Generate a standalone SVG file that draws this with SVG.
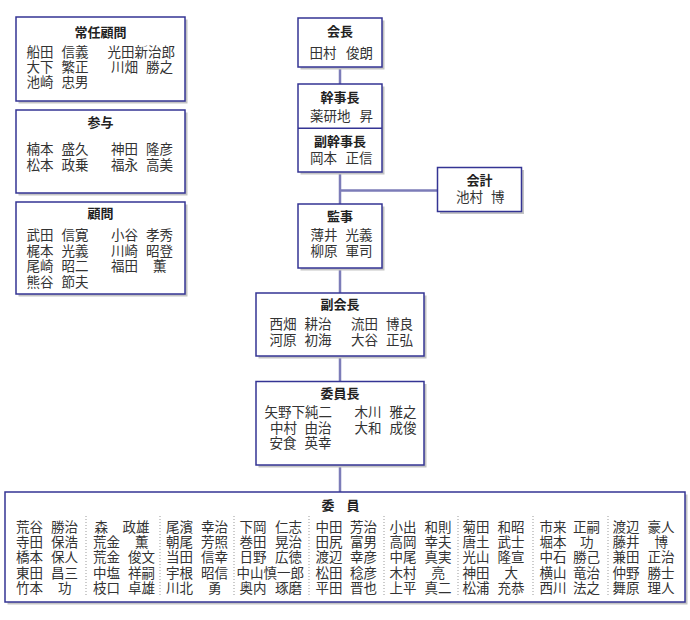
<svg xmlns="http://www.w3.org/2000/svg" width="690" height="620" viewBox="0 0 690 620">
<style>
.box{fill:#fff;stroke:#343494;stroke-width:1.5}
.sh{fill:#c4c4c4}
.t{font-family:"Liberation Sans","Noto Sans CJK JP",sans-serif;font-size:13px;font-weight:bold;fill:#222;text-anchor:middle}
.n{font-family:"Liberation Sans","Noto Sans CJK JP",sans-serif;font-size:13.5px;fill:#333}
.conn{stroke:#7c7cb8;stroke-width:2.5;fill:none}
.dv{stroke:#999;stroke-width:1;stroke-dasharray:1 2}
</style>
<rect width="690" height="620" fill="#fff"/>

<g id="connectors">
<path class="conn" d="M340,67 V85 M340,172 V205 M340,190.5 H438 M340,268 V293 M340,356 V382 M340,465 V492"/>
</g>

<g id="jonin-komon">
<rect class="sh" x="18.5" y="19.5" width="169" height="84"/>
<rect class="box" x="16" y="17" width="169" height="84"/>
<text class="t" x="100.5" y="36.5">常任顧問</text>
<text class="n" y="57"><tspan x="26.5">船田</tspan><tspan x="61.5">信義</tspan><tspan x="107.5">光田新治郎</tspan></text>
<text class="n" y="72"><tspan x="26.5">大下</tspan><tspan x="61.5">繁正</tspan><tspan x="111">川畑</tspan><tspan x="146">勝之</tspan></text>
<text class="n" y="87"><tspan x="26.5">池崎</tspan><tspan x="61.5">忠男</tspan></text>
</g>

<g id="sanyo">
<rect class="sh" x="18.5" y="112.5" width="169" height="83"/>
<rect class="box" x="16" y="110" width="169" height="83"/>
<text class="t" x="100.5" y="126.5">参与</text>
<text class="n" y="153.5"><tspan x="26.5">楠本</tspan><tspan x="61.5">盛久</tspan><tspan x="111">神田</tspan><tspan x="146">隆彦</tspan></text>
<text class="n" y="169.5"><tspan x="26.5">松本</tspan><tspan x="61.5">政乗</tspan><tspan x="111">福永</tspan><tspan x="146">高美</tspan></text>
</g>

<g id="komon">
<rect class="sh" x="18.5" y="204.5" width="169" height="92"/>
<rect class="box" x="16" y="202" width="169" height="92"/>
<text class="t" x="100.5" y="218">顧問</text>
<text class="n" y="240"><tspan x="26.5">武田</tspan><tspan x="61.5">信寛</tspan><tspan x="111">小谷</tspan><tspan x="146">孝秀</tspan></text>
<text class="n" y="255.5"><tspan x="26.5">梶本</tspan><tspan x="61.5">光義</tspan><tspan x="111">川崎</tspan><tspan x="146">昭登</tspan></text>
<text class="n" y="271"><tspan x="26.5">尾崎</tspan><tspan x="61.5">昭二</tspan><tspan x="111">福田</tspan><tspan x="153">薫</tspan></text>
<text class="n" y="286.5"><tspan x="26.5">熊谷</tspan><tspan x="61.5">節夫</tspan></text>
</g>

<g id="kaicho">
<rect class="sh" x="300.5" y="20.5" width="84" height="49"/>
<rect class="box" x="298" y="18" width="84" height="49"/>
<text class="t" x="340" y="35.5">会長</text>
<text class="n" y="58"><tspan x="309.5">田村</tspan><tspan x="346">俊朗</tspan></text>
</g>

<g id="kanjicho">
<rect class="sh" x="300.5" y="86.5" width="84" height="88"/>
<rect class="box" x="298" y="84" width="84" height="88"/>
<line x1="298" y1="128.3" x2="382" y2="128.3" stroke="#343494" stroke-width="1.5"/>
<text class="t" x="340" y="102">幹事長</text>
<text class="n" y="121"><tspan x="310">薬研地</tspan><tspan x="359.5">昇</tspan></text>
<text class="t" x="340" y="145.5">副幹事長</text>
<text class="n" y="162.5"><tspan x="310">岡本</tspan><tspan x="345.5">正信</tspan></text>
</g>

<g id="kaikei">
<rect class="sh" x="440" y="170" width="84" height="44"/>
<rect class="box" x="437.5" y="167.5" width="84" height="44"/>
<text class="t" x="479.5" y="185">会計</text>
<text class="n" y="201.5"><tspan x="456">池村</tspan><tspan x="491">博</tspan></text>
</g>

<g id="kanji">
<rect class="sh" x="300.5" y="206.5" width="84" height="64"/>
<rect class="box" x="298" y="204" width="84" height="64"/>
<text class="t" x="340" y="220.5">監事</text>
<text class="n" y="239.5"><tspan x="310.5">薄井</tspan><tspan x="345.5">光義</tspan></text>
<text class="n" y="256"><tspan x="310.5">柳原</tspan><tspan x="345.5">軍司</tspan></text>
</g>

<g id="fukukaicho">
<rect class="sh" x="258.5" y="295.5" width="168" height="63"/>
<rect class="box" x="256" y="293" width="168" height="63"/>
<text class="t" x="340" y="309">副会長</text>
<text class="n" y="328.5"><tspan x="269.5">西畑</tspan><tspan x="304.5">耕治</tspan><tspan x="351">流田</tspan><tspan x="386">博良</tspan></text>
<text class="n" y="344.5"><tspan x="269.5">河原</tspan><tspan x="304.5">初海</tspan><tspan x="351">大谷</tspan><tspan x="386">正弘</tspan></text>
</g>

<g id="iincho">
<rect class="sh" x="258.5" y="384" width="168" height="83.5"/>
<rect class="box" x="256" y="381.5" width="168" height="83.5"/>
<text class="t" x="340" y="398">委員長</text>
<text class="n" y="416.5"><tspan x="264.5">矢野下純二</tspan><tspan x="354.5">木川</tspan><tspan x="389.5">雅之</tspan></text>
<text class="n" y="432.5"><tspan x="270">中村</tspan><tspan x="304.5">由治</tspan><tspan x="354.5">大和</tspan><tspan x="389.5">成俊</tspan></text>
<text class="n" y="448"><tspan x="269.5">安食</tspan><tspan x="304.5">英幸</tspan></text>
</g>

<g id="iin">
<rect class="sh" x="7.5" y="494.5" width="680" height="110"/>
<rect class="box" x="5" y="492" width="680" height="110"/>
<text class="t" y="509.5"><tspan x="328">委</tspan><tspan x="353">員</tspan></text>
<g id="iin-dividers">
<path class="dv" d="M86,516 V597 M160,516 V597 M234,516 V597 M309,516 V597 M384,516 V597 M458,516 V597 M533,516 V597 M608,516 V597"/>
</g>
<text class="n" y="532"><tspan x="16">荒谷</tspan><tspan x="51">勝治</tspan><tspan x="94.5">森</tspan><tspan x="122.5">政雄</tspan><tspan x="166">尾濱</tspan><tspan x="201">幸治</tspan><tspan x="239.5">下岡</tspan><tspan x="275">仁志</tspan><tspan x="315.5">中田</tspan><tspan x="350">芳治</tspan><tspan x="389.5">小出</tspan><tspan x="424.5">和則</tspan><tspan x="462.5">菊田</tspan><tspan x="497.5">和昭</tspan><tspan x="539.5">市来</tspan><tspan x="573">正嗣</tspan><tspan x="612.5">渡辺</tspan><tspan x="647.5">豪人</tspan></text>
<text class="n" y="547"><tspan x="16">寺田</tspan><tspan x="51">保浩</tspan><tspan x="93">荒金</tspan><tspan x="135">薫</tspan><tspan x="166">朝尾</tspan><tspan x="201">芳照</tspan><tspan x="239.5">巻田</tspan><tspan x="275">晃治</tspan><tspan x="315.5">田尻</tspan><tspan x="350">富男</tspan><tspan x="389.5">高岡</tspan><tspan x="424.5">幸夫</tspan><tspan x="462.5">唐土</tspan><tspan x="497.5">武士</tspan><tspan x="539.5">堀本</tspan><tspan x="580">功</tspan><tspan x="612.5">藤井</tspan><tspan x="654.5">博</tspan></text>
<text class="n" y="562"><tspan x="16">橋本</tspan><tspan x="51">保人</tspan><tspan x="93">荒金</tspan><tspan x="128">俊文</tspan><tspan x="166">当田</tspan><tspan x="201">信幸</tspan><tspan x="239.5">日野</tspan><tspan x="275">広徳</tspan><tspan x="315.5">渡辺</tspan><tspan x="350">幸彦</tspan><tspan x="389.5">中尾</tspan><tspan x="424.5">真実</tspan><tspan x="462.5">光山</tspan><tspan x="497.5">隆宣</tspan><tspan x="539.5">中石</tspan><tspan x="573">勝己</tspan><tspan x="612.5">兼田</tspan><tspan x="647.5">正治</tspan></text>
<text class="n" y="577.5"><tspan x="16">東田</tspan><tspan x="51">昌三</tspan><tspan x="93">中塩</tspan><tspan x="128">祥嗣</tspan><tspan x="166">宇根</tspan><tspan x="201">昭信</tspan><tspan x="236.5">中山慎一郎</tspan><tspan x="315.5">松田</tspan><tspan x="350">稔彦</tspan><tspan x="389.5">木村</tspan><tspan x="431.5">亮</tspan><tspan x="462.5">神田</tspan><tspan x="504.5">大</tspan><tspan x="539.5">横山</tspan><tspan x="573">竜治</tspan><tspan x="612.5">仲野</tspan><tspan x="647.5">勝士</tspan></text>
<text class="n" y="593"><tspan x="16">竹本</tspan><tspan x="58">功</tspan><tspan x="93">枝口</tspan><tspan x="128">卓雄</tspan><tspan x="166">川北</tspan><tspan x="208">勇</tspan><tspan x="239.5">奥内</tspan><tspan x="275">琢磨</tspan><tspan x="315.5">平田</tspan><tspan x="350">晋也</tspan><tspan x="389.5">上平</tspan><tspan x="424.5">真二</tspan><tspan x="462.5">松浦</tspan><tspan x="497.5">充恭</tspan><tspan x="539.5">西川</tspan><tspan x="573">法之</tspan><tspan x="612.5">舞原</tspan><tspan x="647.5">理人</tspan></text>
</g>
</svg>
